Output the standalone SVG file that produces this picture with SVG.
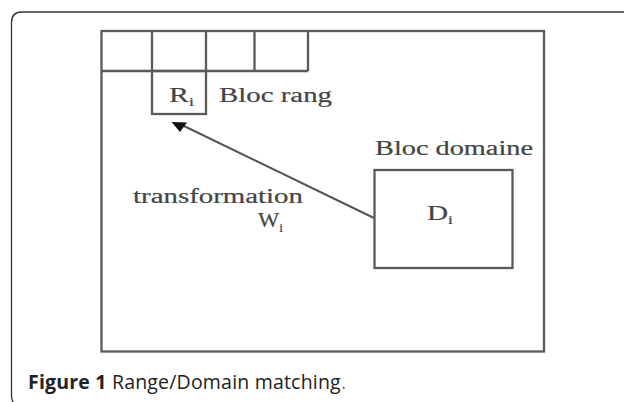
<svg xmlns="http://www.w3.org/2000/svg" width="624" height="402" viewBox="0 0 624 402">
<style>
.box{fill:none;stroke:#5a5a5a;stroke-width:2.3}
.lbl{font-family:"Liberation Serif",serif;font-size:20px;fill:#444;stroke:#444;stroke-width:0.2}
.sub{font-size:12px}
.cap{font-family:"Open Sans","Noto Sans",sans-serif;font-size:19.5px;fill:#222}
</style>
<rect width="624" height="402" fill="#fff"/>
<path d="M630 12 H22 Q11.5 12 11.5 22.5 V396 Q11.5 402 15 404" fill="none" stroke="#333" stroke-width="1.3"/>
<g id="frame">
<rect class="box" x="101.5" y="31" width="442.5" height="320.5"/>
</g>
<g id="range-row">
<line class="box" x1="101.5" y1="71" x2="308" y2="71"/>
<line class="box" x1="152" y1="31" x2="152" y2="71"/>
<line class="box" x1="206" y1="31" x2="206" y2="71"/>
<line class="box" x1="254.5" y1="31" x2="254.5" y2="71"/>
<line class="box" x1="308" y1="31" x2="308" y2="71"/>
</g>
<g id="range-block">
<rect class="box" x="152" y="71" width="54" height="43"/>
<text class="lbl" x="169" y="102" textLength="25" lengthAdjust="spacingAndGlyphs">R<tspan class="sub" dy="4">i</tspan></text>
<text class="lbl" x="219" y="102" textLength="113" lengthAdjust="spacingAndGlyphs">Bloc rang</text>
</g>
<g id="domain-block">
<text class="lbl" x="375" y="155" textLength="158" lengthAdjust="spacingAndGlyphs">Bloc domaine</text>
<rect class="box" x="374.5" y="170" width="138" height="98"/>
<text class="lbl" x="427" y="220" textLength="26" lengthAdjust="spacingAndGlyphs">D<tspan class="sub" dy="4">i</tspan></text>
</g>
<g id="connectors">
<line x1="374" y1="218" x2="184" y2="126" stroke="#555" stroke-width="2"/>
<polygon points="171.5,122 187,122.5 180,132" fill="#111"/>
</g>
<g id="transform-label">
<text class="lbl" x="133" y="203" textLength="170" lengthAdjust="spacingAndGlyphs">transformation</text>
<text class="lbl" x="258" y="227" textLength="25" lengthAdjust="spacingAndGlyphs">W<tspan class="sub" dy="5">i</tspan></text>
</g>
<g id="caption">
<text class="cap" x="28" y="389" textLength="318"><tspan font-weight="bold">Figure 1</tspan> Range/Domain matching<tspan fill="#777">.</tspan></text>
</g>
</svg>
